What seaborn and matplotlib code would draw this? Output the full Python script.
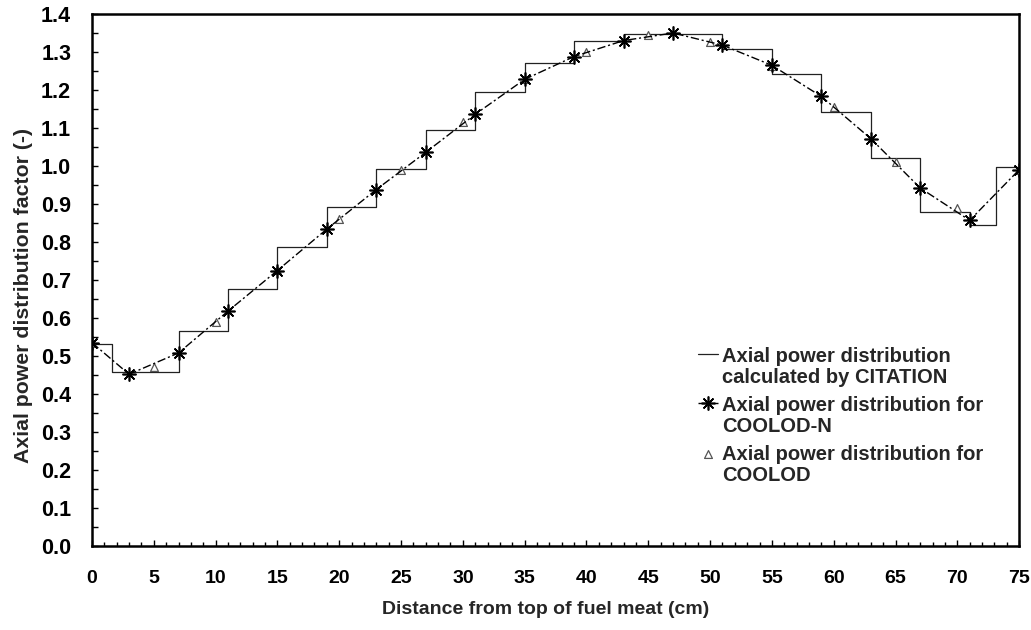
import matplotlib
matplotlib.use("Agg")
import matplotlib.pyplot as plt
from matplotlib.ticker import MultipleLocator, FormatStrFormatter
import seaborn as sns

# ---- data ----
citation_edges = [0, 1.6, 7, 11, 15, 19, 23, 27, 31, 35, 39, 43, 47, 51, 55, 59, 63, 67, 71, 73.1, 75]
citation_vals = [0.532, 0.457, 0.565, 0.677, 0.786, 0.891, 0.993, 1.096, 1.196, 1.271,
                 1.328, 1.348, 1.348, 1.308, 1.243, 1.143, 1.020, 0.880, 0.845, 0.997]

coolodn_x = [0, 3, 7, 11, 15, 19, 23, 27, 31, 35, 39, 43, 47, 51, 55, 59, 63, 67, 71, 75]
coolodn_y = [0.535, 0.452, 0.508, 0.618, 0.725, 0.834, 0.938, 1.036, 1.136, 1.228,
             1.288, 1.330, 1.350, 1.318, 1.265, 1.183, 1.072, 0.942, 0.857, 0.990]

coolod_x = [0, 5, 10, 15, 20, 25, 30, 35, 40, 45, 50, 55, 60, 65, 70, 75]
coolod_y = [0.535, 0.470, 0.589, 0.726, 0.860, 0.990, 1.117, 1.228, 1.300, 1.345,
            1.325, 1.262, 1.154, 1.010, 0.890, 0.990]

labels = ["Axial power distribution\ncalculated by CITATION",
          "Axial power distribution for\nCOOLOD-N",
          "Axial power distribution for\nCOOLOD"]
x_label = "Distance from top of fuel meat (cm)"
y_label = "Axial power distribution factor (-)"

# ---- style ----
sns.set_style("ticks")
plt.rcParams['font.family'] = ['Liberation Sans', 'DejaVu Sans']
plt.rcParams['font.weight'] = 'bold'
plt.rcParams['axes.labelweight'] = 'bold'

fig = plt.figure(figsize=(10.31, 6.30), dpi=100)
ax = fig.add_axes([0.0892, 0.1333, 0.8993, 0.8445])

step_x = citation_edges
step_y = citation_vals + [citation_vals[-1]]

sns.lineplot(x=step_x, y=step_y, ax=ax, drawstyle='steps-post', color='#222222',
             linewidth=0.9, label=labels[0], sort=False, estimator=None)
sns.scatterplot(x=coolod_x, y=coolod_y, ax=ax, marker='^', s=32, facecolor='white',
                edgecolor='#555555', linewidth=0.9, label=labels[2], zorder=3)
sns.lineplot(x=coolodn_x, y=coolodn_y, ax=ax, color='black', linewidth=1.0,
             linestyle=(0, (6, 2, 1.5, 2)), marker=(8, 2, 0), markersize=10,
             markeredgewidth=1.2, markeredgecolor='black', label=labels[1],
             sort=False, estimator=None, zorder=4)

ax.set_xlim(0, 75)
ax.set_ylim(0, 1.4)
ax.xaxis.set_major_locator(MultipleLocator(5))
ax.xaxis.set_minor_locator(MultipleLocator(1))
ax.yaxis.set_major_locator(MultipleLocator(0.1))
ax.yaxis.set_minor_locator(MultipleLocator(0.05))
ax.yaxis.set_major_formatter(FormatStrFormatter('%.1f'))

ax.tick_params(axis='both', which='both', direction='in', width=1.0, colors='black')
ax.tick_params(axis='x', which='major', length=4.5, pad=17, labelsize=14)
ax.tick_params(axis='x', which='minor', length=3)
ax.tick_params(axis='y', which='major', length=4.5, pad=15, labelsize=15.5)
ax.tick_params(axis='y', which='minor', length=4)
for lab in ax.get_xticklabels() + ax.get_yticklabels():
    lab.set_fontweight('bold')

for sp in ax.spines.values():
    sp.set_visible(True)
    sp.set_linewidth(1.8)
    sp.set_color('black')

ax.set_xlabel(x_label, fontsize=14, fontweight='bold', labelpad=10.5)
ax.set_ylabel(y_label, fontsize=15.3, fontweight='bold', labelpad=6)
ax.xaxis.label.set_x(0.489)
ax.yaxis.label.set_y(0.47)

# legend
h, l = ax.get_legend_handles_labels()
hmap = dict(zip(l, h))
leg = ax.legend([hmap[t] for t in labels], labels, loc='upper left',
                bbox_to_anchor=(698 / 1031, 1 - 347 / 630), bbox_transform=fig.transFigure,
                frameon=False, fontsize=14.5, handlelength=1.0, handletextpad=0.2,
                borderpad=0, borderaxespad=0, labelspacing=0.45)
for t in leg.get_texts():
    t.set_fontweight('bold')
    t.set_linespacing(1.12)
try:
    for col in leg._legend_handle_box.get_children():
        for item in col.get_children():
            item.align = 'top'
except Exception:
    pass

fig.savefig("out.png", dpi=100)
